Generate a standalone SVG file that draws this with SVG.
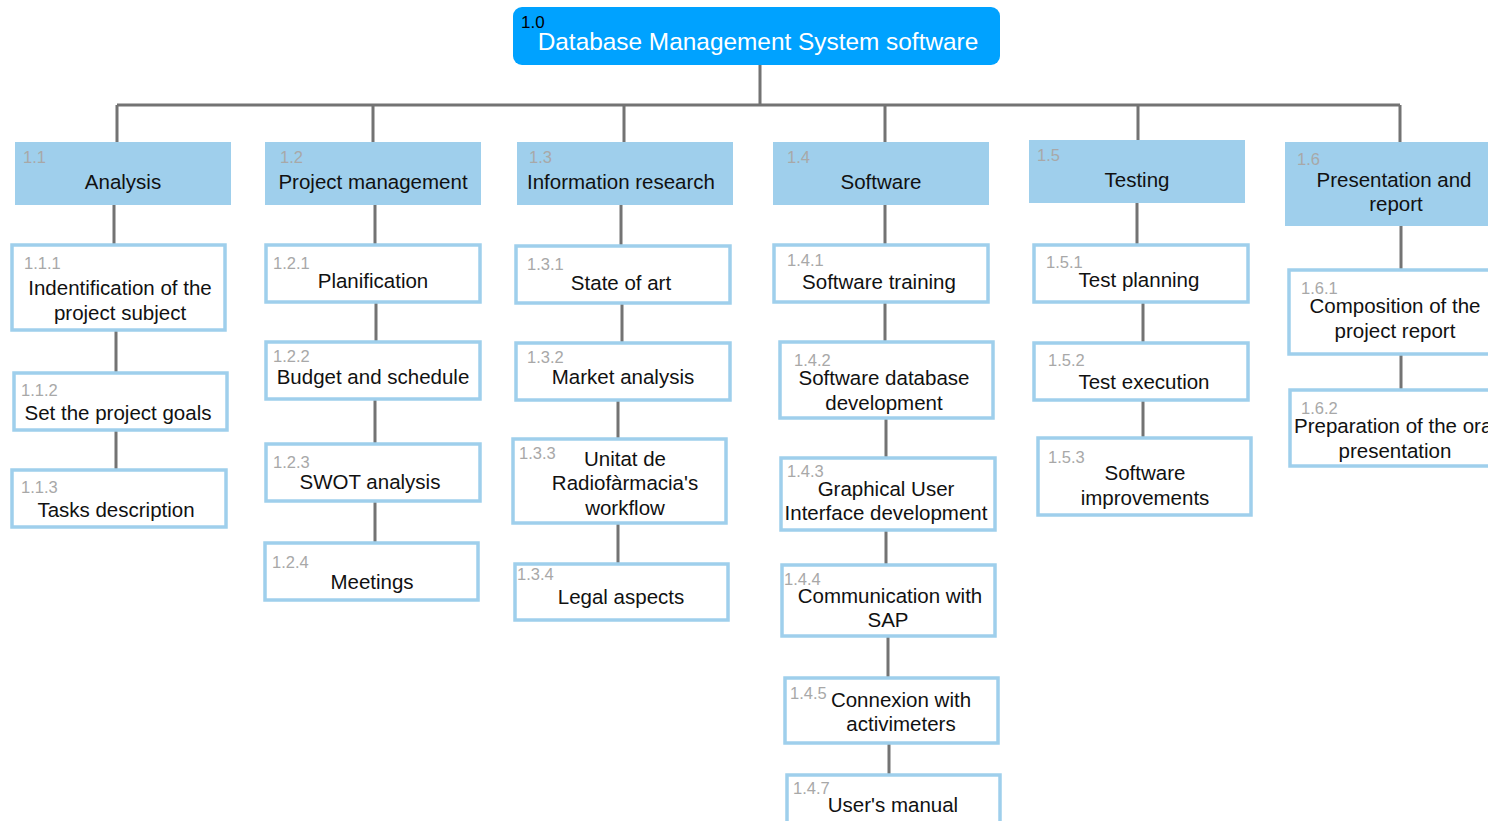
<svg xmlns="http://www.w3.org/2000/svg" width="1488" height="821" viewBox="0 0 1488 821">
<style>
text{font-family:"Liberation Sans",Arial,sans-serif}
.l1{fill:#9fcfec}
.l2{fill:#ffffff;stroke:#9fcfec;stroke-width:3.5}
.t{font-size:20.5px;fill:#111;text-anchor:middle}
.s{text-anchor:start}
.n{font-size:16.5px;fill:#a8a8a8}
.c{stroke:#737373;stroke-width:3;fill:none}
</style>
<rect width="1488" height="821" fill="#ffffff"/>
<g id="connectors">
<path class="c" d="M760 65V105M117 105H1400M117 105V142M373 105V142M624 105V142M885 105V142M1138 105V140M1400 105V142"/>
<path class="c" d="M114 205V245M116 330V373M116 430V470"/>
<path class="c" d="M375 205V245M376 302V342M375 399V444M375 501V543"/>
<path class="c" d="M621 205V246M622 303V343M618 400V439M618 523V564"/>
<path class="c" d="M885 205V245M885 302V342M886 418V458M886 530V565M888 636V678M889 743V775"/>
<path class="c" d="M1137 203V245M1143 302V343M1143 400V438"/>
<path class="c" d="M1401 226V270M1401 354V390"/>
</g>
<g id="n1-0">
<rect x="513" y="7" width="487" height="58" rx="9" fill="#00a2ff"/>
<text x="521" y="28" font-size="17" fill="#000">1.0</text>
<text x="758" y="50" font-size="24.4" fill="#ffffff" text-anchor="middle">Database Management System software</text>
</g>
<g id="n1-1"><rect class="l1" x="15" y="142" width="216" height="63"/><text class="n" x="23" y="163">1.1</text><text class="t" x="123" y="189">Analysis</text></g>
<g id="n1-2"><rect class="l1" x="265" y="142" width="216" height="63"/><text class="n" x="280" y="163">1.2</text><text class="t" x="373" y="189">Project management</text></g>
<g id="n1-3"><rect class="l1" x="517" y="142" width="216" height="63"/><text class="n" x="529" y="163">1.3</text><text class="t" x="621" y="189">Information research</text></g>
<g id="n1-4"><rect class="l1" x="773" y="142" width="216" height="63"/><text class="n" x="787" y="163">1.4</text><text class="t" x="881" y="189">Software</text></g>
<g id="n1-5"><rect class="l1" x="1029" y="140" width="216" height="63"/><text class="n" x="1037" y="161">1.5</text><text class="t" x="1137" y="187">Testing</text></g>
<g id="n1-6"><rect class="l1" x="1285" y="142" width="210" height="84"/><text class="n" x="1297" y="165">1.6</text><text class="t" x="1394" y="187">Presentation and</text><text class="t" x="1396" y="211">report</text></g>

<g id="n1-1-1"><rect class="l2" x="12" y="245" width="213" height="85"/><text class="n" x="24" y="269">1.1.1</text><text class="t" x="120" y="295">Indentification of the</text><text class="t" x="120" y="320">project subject</text></g>
<g id="n1-1-2"><rect class="l2" x="14" y="373" width="213" height="57"/><text class="n" x="21" y="396">1.1.2</text><text class="t" x="118" y="420">Set the project goals</text></g>
<g id="n1-1-3"><rect class="l2" x="12" y="470" width="214" height="57"/><text class="n" x="21" y="493">1.1.3</text><text class="t" x="116" y="517">Tasks description</text></g>

<g id="n1-2-1"><rect class="l2" x="266" y="245" width="214" height="57"/><text class="n" x="273" y="269">1.2.1</text><text class="t" x="373" y="288">Planification</text></g>
<g id="n1-2-2"><rect class="l2" x="266" y="342" width="214" height="57"/><text class="n" x="273" y="362">1.2.2</text><text class="t" x="373" y="384">Budget and schedule</text></g>
<g id="n1-2-3"><rect class="l2" x="266" y="444" width="214" height="57"/><text class="n" x="273" y="468">1.2.3</text><text class="t" x="370" y="489">SWOT analysis</text></g>
<g id="n1-2-4"><rect class="l2" x="265" y="543" width="213" height="57"/><text class="n" x="272" y="568">1.2.4</text><text class="t" x="372" y="589">Meetings</text></g>

<g id="n1-3-1"><rect class="l2" x="516" y="246" width="214" height="57"/><text class="n" x="527" y="270">1.3.1</text><text class="t" x="621" y="290">State of art</text></g>
<g id="n1-3-2"><rect class="l2" x="516" y="343" width="214" height="57"/><text class="n" x="527" y="363">1.3.2</text><text class="t" x="623" y="384">Market analysis</text></g>
<g id="n1-3-3"><rect class="l2" x="513" y="439" width="213" height="84"/><text class="n" x="519" y="459">1.3.3</text><text class="t" x="625" y="466">Unitat de</text><text class="t" x="625" y="490">Radiofàrmacia's</text><text class="t" x="625" y="515">workflow</text></g>
<g id="n1-3-4"><rect class="l2" x="515" y="564" width="213" height="56"/><text class="n" x="517" y="580">1.3.4</text><text class="t" x="621" y="604">Legal aspects</text></g>

<g id="n1-4-1"><rect class="l2" x="774" y="245" width="214" height="57"/><text class="n" x="787" y="266">1.4.1</text><text class="t" x="879" y="289">Software training</text></g>
<g id="n1-4-2"><rect class="l2" x="780" y="342" width="213" height="76"/><text class="n" x="794" y="366">1.4.2</text><text class="t" x="884" y="385">Software database</text><text class="t" x="884" y="410">development</text></g>
<g id="n1-4-3"><rect class="l2" x="781" y="458" width="214" height="72"/><text class="n" x="787" y="477">1.4.3</text><text class="t" x="886" y="496">Graphical User</text><text class="t" x="886" y="520">Interface development</text></g>
<g id="n1-4-4"><rect class="l2" x="782" y="565" width="213" height="71"/><text class="n" x="784" y="585">1.4.4</text><text class="t" x="890" y="603">Communication with</text><text class="t" x="888" y="627">SAP</text></g>
<g id="n1-4-5"><rect class="l2" x="785" y="678" width="213" height="65"/><text class="n" x="790" y="699">1.4.5</text><text class="t" x="901" y="707">Connexion with</text><text class="t" x="901" y="731">activimeters</text></g>
<g id="n1-4-7"><rect class="l2" x="787" y="775" width="213" height="60"/><text class="n" x="793" y="794">1.4.7</text><text class="t" x="893" y="812">User's manual</text></g>

<g id="n1-5-1"><rect class="l2" x="1034" y="245" width="214" height="57"/><text class="n" x="1046" y="268">1.5.1</text><text class="t" x="1139" y="287">Test planning</text></g>
<g id="n1-5-2"><rect class="l2" x="1034" y="343" width="214" height="57"/><text class="n" x="1048" y="366">1.5.2</text><text class="t" x="1144" y="389">Test execution</text></g>
<g id="n1-5-3"><rect class="l2" x="1038" y="438" width="213" height="77"/><text class="n" x="1048" y="463">1.5.3</text><text class="t" x="1145" y="480">Software</text><text class="t" x="1145" y="505">improvements</text></g>

<g id="n1-6-1"><rect class="l2" x="1289" y="270" width="213" height="84"/><text class="n" x="1301" y="294">1.6.1</text><text class="t" x="1395" y="313">Composition of the</text><text class="t" x="1395" y="338">project report</text></g>
<g id="n1-6-2"><rect class="l2" x="1290" y="390" width="213" height="76"/><text class="n" x="1301" y="414">1.6.2</text><text class="t s" x="1294" y="433">Preparation of the oral</text><text class="t" x="1395" y="458">presentation</text></g>
</svg>
